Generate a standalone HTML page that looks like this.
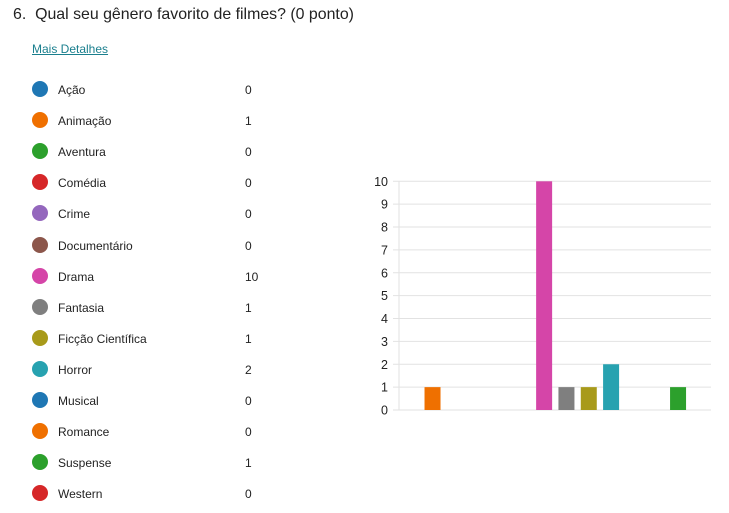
<!DOCTYPE html>
<html><head><meta charset="utf-8">
<style>
body{margin:0;width:729px;height:513px;background:#fff;font-family:"Liberation Sans",sans-serif;color:#222;position:relative;overflow:hidden}
.t{position:absolute;left:13px;top:6px;font-size:15.9px;color:#222}
.m{position:absolute;left:32px;top:42px;font-size:12px;color:#1a7f8e;text-decoration:underline}
.row{position:absolute;left:0;height:20px;width:300px}
.dot{position:absolute;left:32px;top:2px;width:16px;height:16px;border-radius:50%}
.lb{position:absolute;left:58px;top:4px;font-size:12px}
.vl{position:absolute;left:245px;top:4px;font-size:12px}
svg{position:absolute;left:0;top:0}
</style></head><body>
<div class="t">6.&nbsp; Qual seu gênero favorito de filmes? (0 ponto)</div>
<div class="m">Mais Detalhes</div>
<div id="legend"></div>
<svg id="chart" width="729" height="513"></svg>
<script>
const categories=["Ação","Animação","Aventura","Comédia","Crime","Documentário","Drama","Fantasia","Ficção Científica","Horror","Musical","Romance","Suspense","Western"];
const values=[0,1,0,0,0,0,10,1,1,2,0,0,1,0];
const colors=["#1f77b4","#ef7000","#2ca02c","#d62728","#9467bd","#8c564b","#d545a8","#7f7f7f","#a89a1a","#27a2b0","#1f77b4","#ef7000","#2ca02c","#d62728"];
const yTicks=[0,1,2,3,4,5,6,7,8,9,10];
const leg=document.getElementById('legend');
categories.forEach((c,i)=>{
  const r=document.createElement('div');r.className='row';r.style.top=(79+i*31.1)+'px';
  
  
  r.innerHTML='<div class="dot" style="background:'+colors[i]+'"></div><div class="lb">'+c+'</div><div class="vl">'+values[i]+'</div>';
  leg.appendChild(r);
});
const svg=document.getElementById('chart');const NS='http://www.w3.org/2000/svg';
const x0=399,x1=711.5,y0=410,yTop=181.3,ymax=10;
const slot=(x1-x0)/categories.length;
const y=v=>y0-(y0-yTop)*v/ymax;
function el(t,a){const e=document.createElementNS(NS,t);for(const k in a)e.setAttribute(k,a[k]);svg.appendChild(e);return e;}
yTicks.forEach(v=>{
  const g=el('line',{x1:393,x2:711,y1:y(v),y2:y(v),stroke:'#e2e2e2','stroke-width':1});
  
  
  const t=el('text',{x:388,y:y(v)+4.5,'text-anchor':'end','font-size':12.5,fill:'#222','font-family':'Liberation Sans, sans-serif'});
  t.textContent=v;
  
  
});
const ax=el('line',{x1:x0,x2:x0,y1:yTop,y2:y0,stroke:'#e2e2e2','stroke-width':1});


values.forEach((v,i)=>{
  if(v<=0)return;
  const b=el('rect',{x:x0+i*slot+3.2,y:y(v),width:16,height:y0-y(v),fill:colors[i]});
  
  
});
</script>
</body></html>
